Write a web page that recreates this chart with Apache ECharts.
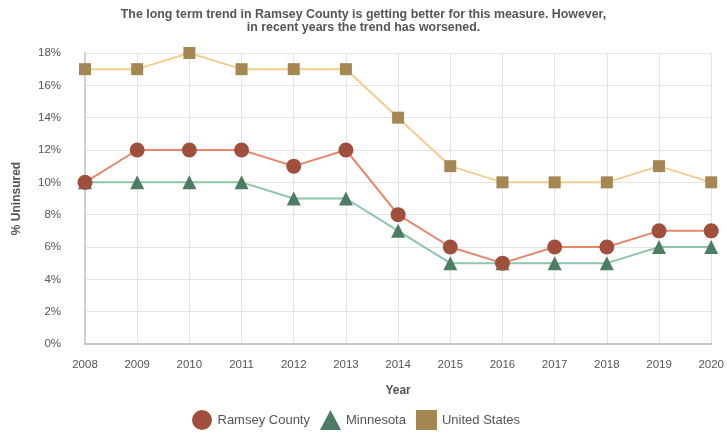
<!DOCTYPE html>
<html>
<head>
<meta charset="utf-8">
<script src="https://cdn.jsdelivr.net/npm/echarts@6/dist/echarts.min.js"></script>
<style>
  html, body { margin: 0; padding: 0; background: #fff; }
  #chart { width: 727px; height: 432px; }
</style>
</head>
<body>
<div id="chart"></div>
<script>
// Share of residents without health insurance, by year
const years = ['2008','2009','2010','2011','2012','2013','2014','2015','2016','2017','2018','2019','2020'];
const ramseyCounty = [10, 12, 12, 12, 11, 12, 8, 6, 5, 6, 6, 7, 7];
const minnesota    = [10, 10, 10, 10, 9, 9, 7, 5, 5, 5, 5, 6, 6];
const unitedStates = [17, 17, 18, 17, 17, 17, 14, 11, 10, 10, 10, 11, 10];

const font = 'Arial, "Liberation Sans", sans-serif';

const chart = echarts.init(document.getElementById('chart'));
chart.setOption({
  animation: false,
  title: {
    text: 'The long term trend in Ramsey County is getting better for this measure. However,\nin recent years the trend has worsened.',
    left: 'center',
    top: 3,
    textStyle: { fontFamily: font, fontSize: 12.4, fontWeight: 'bold', color: '#555', lineHeight: 13 }
  },
  legend: {
    bottom: -3,
    left: 187,
    itemGap: 10,
    itemWidth: 21,
    itemHeight: 20,
    textStyle: { fontFamily: font, fontSize: 13, color: '#555' },
    data: [
      { name: 'Ramsey County', icon: 'circle' },
      { name: 'Minnesota', icon: 'triangle' },
      { name: 'United States', icon: 'rect' }
    ]
  },
  grid: { left: 85, right: 15, top: 53, bottom: 88 },
  xAxis: {
    type: 'category',
    data: years,
    boundaryGap: false,
    name: 'Year',
    nameLocation: 'middle',
    nameGap: 41,
    nameTextStyle: { fontFamily: font, fontSize: 12, fontWeight: 'bold', color: '#555' },
    axisLine: { lineStyle: { color: '#c4c4c4', width: 2 } },
    axisTick: { show: false },
    axisLabel: { fontFamily: font, fontSize: 11.5, color: '#555', margin: 15 },
    splitLine: { show: true, lineStyle: { color: '#e4e4e4' } }
  },
  yAxis: {
    type: 'value',
    min: 0,
    max: 18,
    interval: 2,
    name: '% Uninsured',
    nameLocation: 'middle',
    nameGap: 62,
    nameTextStyle: { fontFamily: font, fontSize: 12, fontWeight: 'bold', color: '#555' },
    axisLine: { show: true, lineStyle: { color: '#d0d0d0', width: 2 } },
    axisTick: { show: false },
    axisLabel: { fontFamily: font, fontSize: 11.5, color: '#555', margin: 24, formatter: '{value}%' },
    splitLine: { show: true, lineStyle: { color: '#e4e4e4' } }
  },
  series: [
    {
      name: 'Ramsey County',
      type: 'line',
      data: ramseyCounty,
      symbol: 'circle',
      symbolSize: 15,
      z: 4,
      lineStyle: { color: '#e8866c', width: 2 },
      itemStyle: { color: '#a14f3d' }
    },
    {
      name: 'Minnesota',
      type: 'line',
      data: minnesota,
      symbol: 'triangle',
      symbolSize: 14,
      z: 3,
      lineStyle: { color: '#8fc6a9', width: 2 },
      itemStyle: { color: '#4c7d62' }
    },
    {
      name: 'United States',
      type: 'line',
      data: unitedStates,
      symbol: 'rect',
      symbolSize: 12,
      z: 2,
      lineStyle: { color: '#f5cc8e', width: 2 },
      itemStyle: { color: '#a58753' }
    }
  ]
});
</script>
</body>
</html>
